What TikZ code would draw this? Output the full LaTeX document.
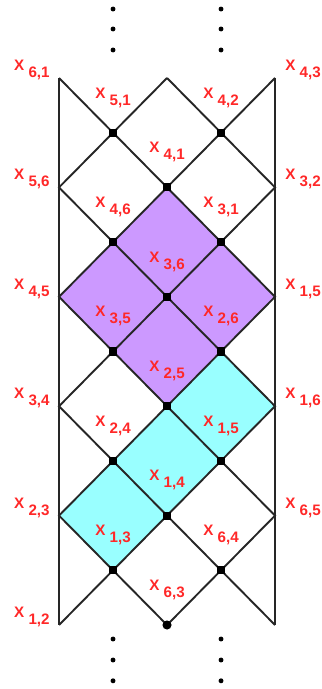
\documentclass[tikz,border=0pt]{standalone}
\usepackage{fontspec}
\setmainfont{Liberation Sans}
\usetikzlibrary{positioning}
\definecolor{labred}{HTML}{FF2828}
\definecolor{cellpurple}{HTML}{CC99FF}
\definecolor{cellcyan}{HTML}{99FFFF}
\newcommand{\xlab}[1]{X\ \raisebox{-3.7pt}{#1}}

\begin{document}
\begin{tikzpicture}[
    x=1cm, y=1.013cm,
    edge/.style={line width=1pt, black!85},
    lab/.style={text=labred, font=\fontsize{8}{9}\selectfont\bfseries, inner sep=0pt},
    vertexdot/.style={fill=black, inner sep=0pt, minimum size=4.3pt},
    enddot/.style={circle, fill=black, inner sep=0pt, minimum size=4.8pt},
    ellip/.style={circle, fill=black, inner sep=0pt, minimum size=2.6pt}
]
\useasboundingbox (-1.093,1.426) rectangle (4.870,-11.17);

% lattice points
\foreach \i in {0,...,4}
  \foreach \j in {0,...,10}
    \coordinate (v\i-\j) at (\i,-\j);

% shaded cells
\fill[cellpurple] (v2-2) -- (v4-4) -- (v2-6) -- (v0-4) -- cycle;
\fill[cellcyan] (v3-5) -- (v4-6) -- (v1-9) -- (v0-8) -- cycle;

% side walls
\draw[edge] (v0-0) -- (v0-10);
\draw[edge] (v4-0) -- (v4-10);

% zigzag diagonals
\draw[edge] (v0-0) -- (v4-4) -- (v0-8) -- (v2-10);
\draw[edge] (v2-0) -- (v4-2) -- (v0-6) -- (v4-10);
\draw[edge] (v2-0) -- (v0-2) -- (v4-6) -- (v0-10);
\draw[edge] (v4-0) -- (v0-4) -- (v4-8) -- (v2-10);

% crossing points
\foreach \i/\j in {1/1,3/1,2/2,1/3,3/3,2/4,1/5,3/5,2/6,1/7,3/7,2/8,1/9,3/9}
  \node[vertexdot] (d\i-\j) at (v\i-\j) {};
\node[enddot] (dend) at (v2-10) {};

% continuation dots
\foreach \i in {1,3} {
  \foreach \y [count=\k] in {1.261,0.896,0.512}
    \node[ellip] (top\i-\k) at (\i,\y) {};
  \foreach \y [count=\k] in {-10.256,-10.64,-11.02}
    \node[ellip] (bot\i-\k) at (\i,\y) {};
}

% labels on the walls
\foreach \j/\t in {0/{6,1},2/{5,6},4/{4,5},6/{3,4},8/{2,3},10/{1,2}}
  \node[lab, above left=-0.04cm and 0.167cm of v0-\j] (wl\j) {\xlab{\t}};
\foreach \j/\t in {0/{4,3},2/{3,2},4/{1,5},6/{1,6},8/{6,5}}
  \node[lab, above right=-0.04cm and 0.185cm of v4-\j] (wr\j) {\xlab{\t}};

% labels in the cells
\foreach \i/\j/\t in {1/0/{5,1},3/0/{4,2},2/1/{4,1},1/2/{4,6},3/2/{3,1},
    2/3/{3,6},1/4/{3,5},3/4/{2,6},2/5/{2,5},1/6/{2,4},3/6/{1,5},
    2/7/{1,4},1/8/{1,3},3/8/{6,4},2/9/{6,3}}
  \node[lab, below=0.17cm of v\i-\j] (c\i-\j) {\xlab{\t}};

\end{tikzpicture}
\end{document}
